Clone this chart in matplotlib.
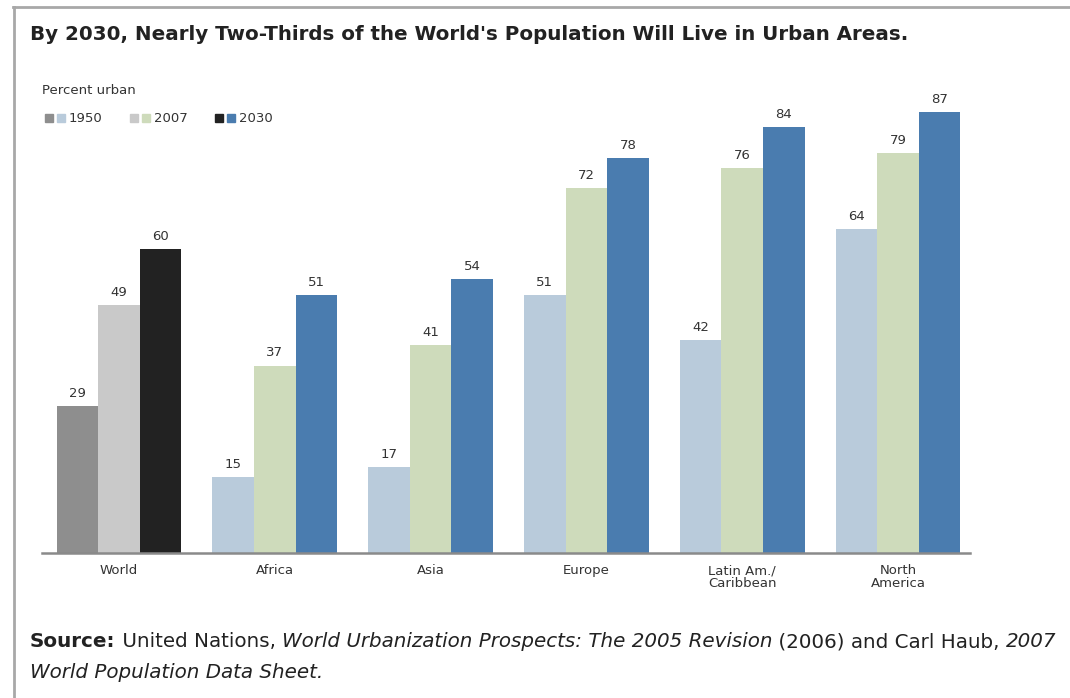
import numpy as np
import matplotlib
matplotlib.use("Agg")
import matplotlib.pyplot as plt
from matplotlib.patches import Patch
from matplotlib.legend_handler import HandlerTuple
from matplotlib.lines import Line2D

# Data (percent urban)
regions   = ["World", "Africa", "Asia", "Europe", "Latin Am./\nCaribbean", "North\nAmerica"]
years     = ["1950", "2007", "2030"]
urban_1950 = [29, 15, 17, 51, 42, 64]
urban_2007 = [49, 37, 41, 72, 76, 79]
urban_2030 = [60, 51, 54, 78, 84, 87]

# colours: world in greys, regions in blues/greens
WORLD_COL  = ["#8e8e8e", "#c9c9c9", "#222222"]
REGION_COL = ["#b9cbdb", "#cedbbb", "#4a7caf"]
TXT = "#333333"

fig = plt.figure(figsize=(10.7, 6.98), dpi=100)
ax = fig.add_axes([0.0393, 0.2077, 0.8673, 0.6533])

x = np.arange(len(regions))
w = 0.267
series = [urban_1950, urban_2007, urban_2030]
for k, vals in enumerate(series):
    cols = [WORLD_COL[k] if r == "World" else REGION_COL[k] for r in regions]
    bars = ax.bar(x + (k - 1) * w, vals, width=w, color=cols, linewidth=0)
    for b, v in zip(bars, vals):
        ax.text(b.get_x() + b.get_width() / 2, v + 1.2, str(v), ha="center",
                va="bottom", fontsize=9.5, color=TXT)

ax.set_xlim(-0.494, 5.462)
ax.set_ylim(0, 90)
ax.set_xticks(x)
ax.set_xticklabels(regions, fontsize=9.5, color=TXT, linespacing=1.0)
ax.tick_params(axis="x", length=0, pad=8)
ax.set_yticks([])
for s in ["top", "left", "right"]:
    ax.spines[s].set_visible(False)
ax.spines["bottom"].set_color("#8a8a8a")
ax.spines["bottom"].set_linewidth(1.8)

# legend: grey swatch + colour swatch per year
handles = [(Patch(color=WORLD_COL[k]), Patch(color=REGION_COL[k])) for k in range(3)]
fig.text(42 / 1070, 1 - 91 / 698, "Percent urban", fontsize=9.5, color=TXT,
         va="center", ha="left")
fig.legend(handles, years, handler_map={tuple: HandlerTuple(ndivide=None, pad=0.3)},
           loc="center left", bbox_to_anchor=(45 / 1070, 1 - 119 / 698),
           ncol=3, frameon=False, fontsize=9.5, labelcolor=TXT,
           handlelength=1.5, handleheight=0.55, handletextpad=0.3,
           columnspacing=2.1, borderaxespad=0, borderpad=0)

# title
fig.text(30 / 1070, 1 - 35 / 698,
         "By 2030, Nearly Two-Thirds of the World's Population Will Live in Urban Areas.",
         fontsize=14.3, fontweight="bold", color="#222222", va="center", ha="left")

# frame lines (top and left)
fig.add_artist(Line2D([13 / 1070, 1], [1 - 7 / 698, 1 - 7 / 698], color="#a8a8a8",
                      lw=2, transform=fig.transFigure))
fig.add_artist(Line2D([14 / 1070, 14 / 1070], [0, 1 - 7 / 698], color="#a8a8a8",
                      lw=2, transform=fig.transFigure))

# source note with mixed styles
fs = 14.3
t = fig.text(30 / 1070, 1 - 651 / 698, "Source:", fontsize=fs, fontweight="bold",
             color="#222222", va="bottom", ha="left")
pieces = [(" United Nations, ", "normal"),
          ("World Urbanization Prospects: The 2005 Revision", "italic"),
          (" (2006) and Carl Haub, ", "normal"),
          ("2007", "italic")]
for txt, style in pieces:
    t = ax.annotate(txt, xy=(1, 0), xycoords=t, va="bottom", ha="left",
                    fontsize=fs, fontstyle=style, color="#222222",
                    annotation_clip=False)
fig.text(30 / 1070, 1 - 682 / 698, "World Population Data Sheet.", fontsize=fs,
         fontstyle="italic", color="#222222", va="bottom", ha="left")

fig.savefig("out.png", dpi=100)
